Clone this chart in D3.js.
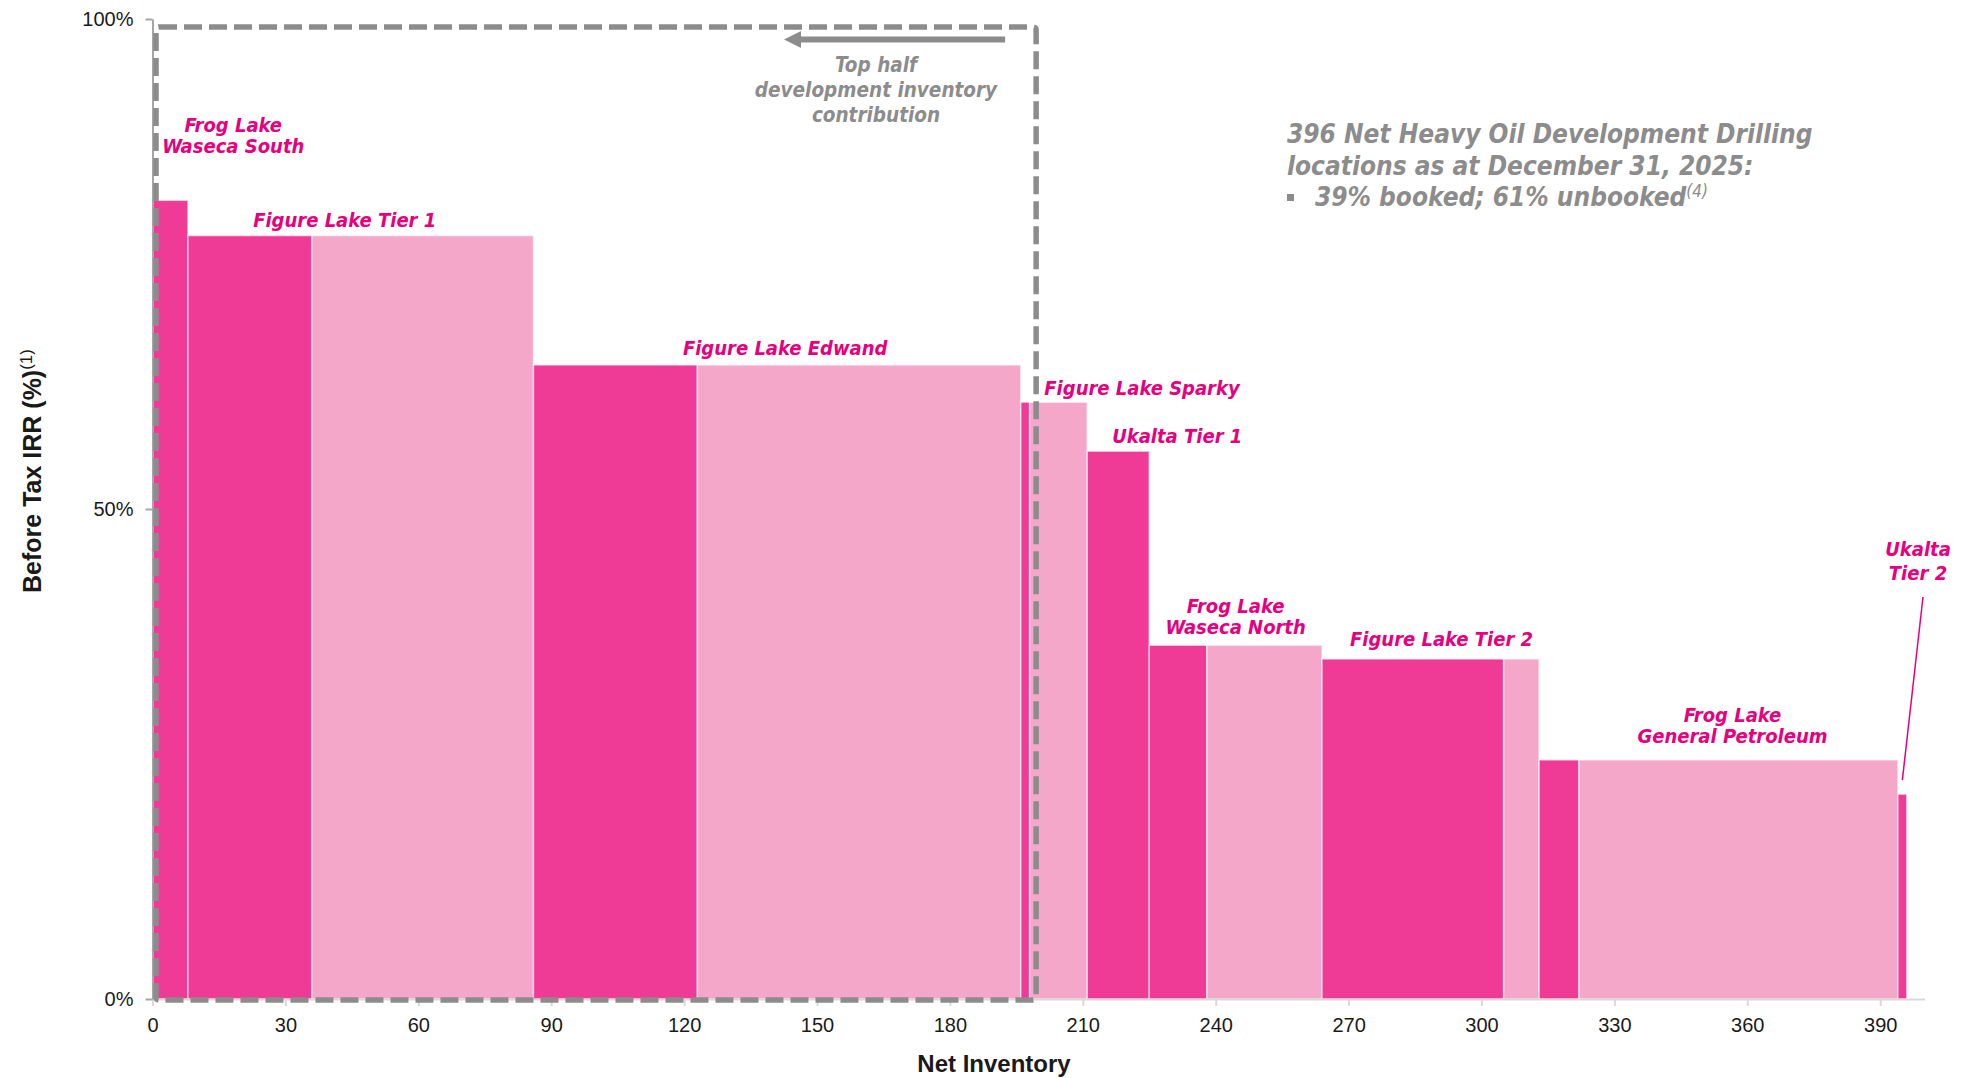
<!DOCTYPE html>
<html>
<head>
<meta charset="utf-8">
<script src="https://cdn.jsdelivr.net/npm/d3@7"></script>
<style>
  body { margin: 0; background: #fff; }
  svg { display: block; }
</style>
</head>
<body>
<div class="chart"></div>
<script>
// heavy oil inventory by area, sorted by before tax IRR
var areas = ["Frog Lake Waseca South", "Figure Lake Tier 1", "Figure Lake Edwand", "Figure Lake Sparky",
             "Ukalta Tier 1", "Frog Lake Waseca North", "Figure Lake Tier 2", "Frog Lake General Petroleum", "Ukalta Tier 2"];
var labelLines = [["Frog Lake", "Waseca South"], ["Figure Lake Tier 1"], ["Figure Lake Edwand"], ["Figure Lake Sparky"],
                  ["Ukalta Tier 1"], ["Frog Lake", "Waseca North"], ["Figure Lake Tier 2"], ["Frog Lake", "General Petroleum"], ["Ukalta", "Tier 2"]];
var booked   = [8, 28, 37, 2, 14, 13, 41, 9, 2];
var unbooked = [0, 50, 73, 13, 0, 26, 8, 72, 0];
var irr      = [81.5, 77.9, 64.7, 60.9, 55.9, 36.1, 34.7, 24.4, 20.9];

var xTicks = [0, 30, 60, 90, 120, 150, 180, 210, 240, 270, 300, 330, 360, 390];
var yTicks = [0, 50, 100];
var topHalf = 198;

var darkPink = "#ef3b95";
var lightPink = "#f4a7c9";
var labelColor = "#e6007e";
var grey = "#8c8c8c";
var labelFont = "'DejaVu Sans Condensed', 'DejaVu Sans', sans-serif";

var width = 1973, height = 1078;

var svg = d3.select(".chart")
            .append("svg")
            .attr("width", width)
            .attr("height", height);

var x = d3.scaleLinear().domain([0, 400]).range([152.5, 1924.5]);
var y = d3.scaleLinear().domain([0, 100]).range([999, 19]);

// cumulative start of each area
var starts = [];
var acc = 0;
for (var i = 0; i < areas.length; i++) {
    starts.push(acc);
    acc += booked[i] + unbooked[i];
}

// bars: booked (dark) then unbooked (light)
for (var i = 0; i < areas.length; i++) {
    svg.append("rect")
        .attr("x", x(starts[i]))
        .attr("y", y(irr[i]))
        .attr("width", x(starts[i] + booked[i]) - x(starts[i]))
        .attr("height", y(0) - y(irr[i]))
        .attr("fill", darkPink)
        .attr("stroke", "#fff")
        .attr("stroke-opacity", 0.6)
        .attr("stroke-width", 1.5);

    if (unbooked[i] > 0) {
        svg.append("rect")
            .attr("x", x(starts[i] + booked[i]))
            .attr("y", y(irr[i]))
            .attr("width", x(starts[i] + booked[i] + unbooked[i]) - x(starts[i] + booked[i]))
            .attr("height", y(0) - y(irr[i]))
            .attr("fill", lightPink)
            .attr("stroke", "#fff")
            .attr("stroke-opacity", 0.6)
            .attr("stroke-width", 1.5);
    }
}

// x axis
var xAxis = svg.append("g")
    .attr("transform", "translate(0," + y(0) + ")")
    .call(d3.axisBottom(x).tickValues(xTicks).tickSize(7).tickPadding(12).tickSizeOuter(0));
xAxis.select(".domain").attr("stroke", "#d9d9d9").attr("stroke-width", 2);
xAxis.selectAll(".tick line").attr("stroke", "#d9d9d9").attr("stroke-width", 2);
xAxis.selectAll("text")
    .style("font-family", "'Liberation Sans', Arial, sans-serif")
    .style("font-size", "20px")
    .attr("fill", "#1a1a1a");

// y axis
var yAxis = svg.append("g")
    .attr("transform", "translate(" + x(0) + ",0)")
    .call(d3.axisLeft(y).tickValues(yTicks).tickFormat(function(d) { return d + "%"; })
          .tickSize(7).tickPadding(12).tickSizeOuter(0));
yAxis.select(".domain").attr("stroke", "#a6a6a6").attr("stroke-width", 2);
yAxis.selectAll(".tick line").attr("stroke", "#a6a6a6").attr("stroke-width", 2);
yAxis.selectAll("text")
    .style("font-family", "'Liberation Sans', Arial, sans-serif")
    .style("font-size", "20px")
    .attr("fill", "#1a1a1a");

// axis titles
svg.append("text")
    .attr("x", 994)
    .attr("y", 1072)
    .attr("text-anchor", "middle")
    .style("font-family", "'Liberation Sans', Arial, sans-serif")
    .style("font-size", "24px")
    .style("font-weight", "bold")
    .attr("fill", "#1a1a1a")
    .text("Net Inventory");

var yTitle = svg.append("text")
    .attr("transform", "translate(41,593) rotate(-90)")
    .style("font-family", "'Liberation Sans', Arial, sans-serif")
    .attr("fill", "#1a1a1a");
yTitle.append("tspan")
    .style("font-size", "25px")
    .style("font-weight", "bold")
    .text("Before Tax IRR (%)");
yTitle.append("tspan")
    .attr("dy", -9)
    .style("font-size", "17px")
    .text("(1)");

// top half dashed box
var boxX0 = x(0) + 3.5, boxX1 = x(topHalf) + 6.5;
var boxY0 = y(100) + 8, boxY1 = y(0) + 1;
svg.append("rect")
    .attr("x", boxX0)
    .attr("y", boxY0)
    .attr("width", boxX1 - boxX0)
    .attr("height", boxY1 - boxY0)
    .attr("rx", 3)
    .attr("fill", "none")
    .attr("stroke", grey)
    .attr("stroke-width", 5.5)
    .attr("stroke-dasharray", "18,7");

// arrow
svg.append("line")
    .attr("x1", boxX1 - 31)
    .attr("y1", 39.5)
    .attr("x2", 796)
    .attr("y2", 39.5)
    .attr("stroke", grey)
    .attr("stroke-width", 6);
svg.append("path")
    .attr("d", "M784,39.5 L801,31 L801,48 Z")
    .attr("fill", grey);

var topText = ["Top half", "development inventory", "contribution"];
for (var i = 0; i < topText.length; i++) {
    svg.append("text")
        .attr("x", 876)
        .attr("y", 72 + i * 25)
        .attr("text-anchor", "middle")
        .style("font-family", labelFont)
        .style("font-size", "20.5px")
        .style("font-weight", "bold")
        .style("font-style", "italic")
        .attr("fill", grey)
        .text(topText[i]);
}

// summary note
var note = ["396 Net Heavy Oil Development Drilling", "locations as at December 31, 2025:"];
for (var i = 0; i < note.length; i++) {
    svg.append("text")
        .attr("x", 1287)
        .attr("y", 143 + i * 31.5)
        .style("font-family", labelFont)
        .style("font-size", "26px")
        .style("font-weight", "bold")
        .style("font-style", "italic")
        .attr("fill", grey)
        .text(note[i]);
}
svg.append("rect")
    .attr("x", 1287)
    .attr("y", 194)
    .attr("width", 7)
    .attr("height", 7)
    .attr("fill", grey);
var bullet = svg.append("text")
    .attr("x", 1315)
    .attr("y", 206)
    .style("font-family", labelFont)
    .style("font-style", "italic")
    .attr("fill", grey);
bullet.append("tspan")
    .style("font-size", "26px")
    .style("font-weight", "bold")
    .text("39% booked; 61% unbooked");
bullet.append("tspan")
    .attr("dy", -9)
    .style("font-size", "17px")
    .text("(4)");

// area labels: offset from centre of each area and from bar top
var labelDx = [63, -16, 8, 88, 59, 0, 11, 14, 0];
var labelDy = [47, 9, 10, 7, 8, 11, 13, 17, 0];
var lineGap = [21, 21, 21, 21, 21, 21, 21, 21, 24];
for (var i = 0; i < areas.length; i++) {
    var cx = x(starts[i] + (booked[i] + unbooked[i]) / 2) + labelDx[i];
    var base = y(irr[i]) - labelDy[i];
    if (i == areas.length - 1) {
        cx = 1918;
        base = 580;
    }
    var lines = labelLines[i];
    for (var j = 0; j < lines.length; j++) {
        svg.append("text")
            .attr("x", cx)
            .attr("y", base - (lines.length - 1 - j) * lineGap[i])
            .attr("text-anchor", "middle")
            .style("font-family", labelFont)
            .style("font-size", "20px")
            .style("font-weight", "bold")
            .style("font-style", "italic")
            .attr("fill", labelColor)
            .text(lines[j]);
    }
}

// leader for the last, narrow area
var last = areas.length - 1;
svg.append("line")
    .attr("x1", 1923)
    .attr("y1", 597)
    .attr("x2", x(starts[last] + booked[last] / 2))
    .attr("y2", y(irr[last]) - 14)
    .attr("stroke", labelColor)
    .attr("stroke-width", 1.5);
</script>
</body>
</html>
